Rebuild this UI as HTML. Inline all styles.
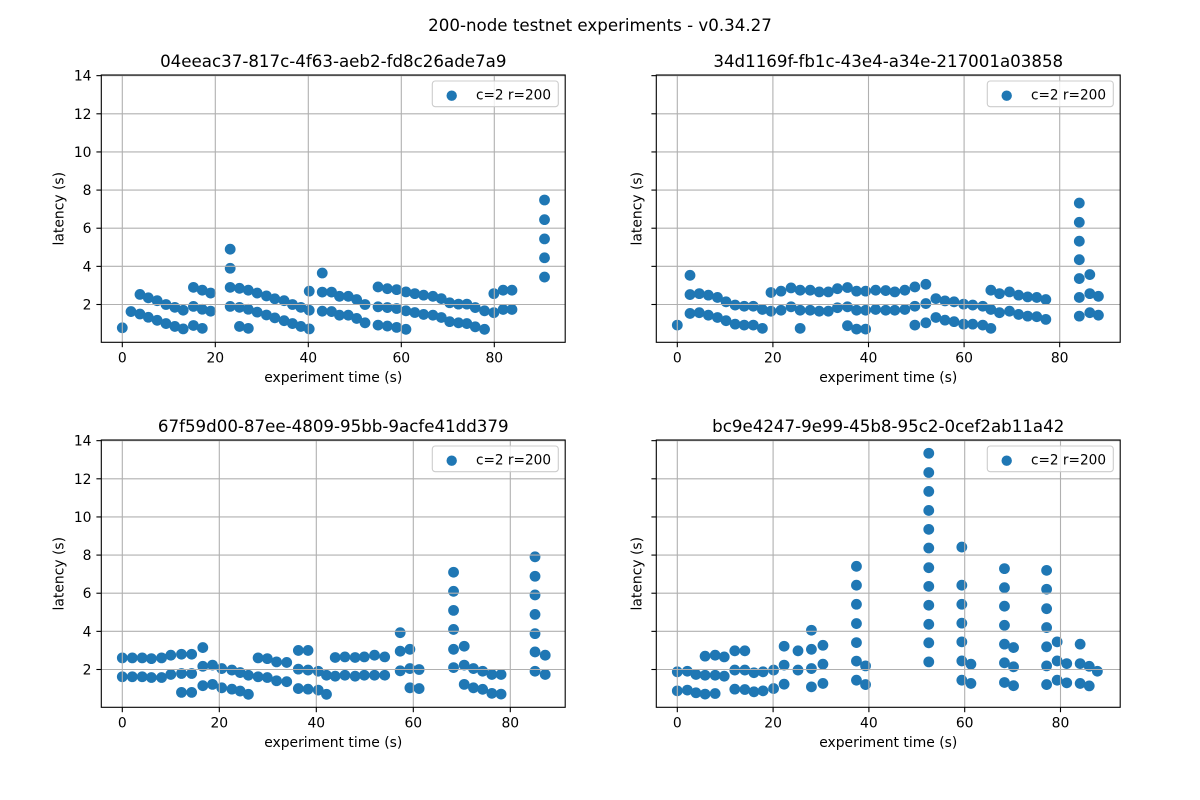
<!DOCTYPE html>
<html><head><meta charset="utf-8"><style>
html,body{margin:0;padding:0;background:#fff;}
svg{display:block;font-family:"DejaVu Sans","Liberation Sans",sans-serif;}
</style></head><body>
<svg id="s" width="1200" height="800" viewBox="0 0 1200 800" xmlns="http://www.w3.org/2000/svg">
<rect width="1200" height="800" fill="#fff"/>
<g id="pts" fill="#1f77b4"></g>
<g id="grid" stroke="#b0b0b0" stroke-width="1.1"></g>
<g id="frame" stroke="#000" stroke-width="1.1" fill="none"></g>

<!-- legends -->
<g>
<rect x="432.3" y="81" width="126" height="25.7" rx="3" fill="#fff" fill-opacity="0.8" stroke="#cccccc" stroke-width="1.1"/>
<circle cx="451.7" cy="95.7" r="5.2" fill="#1f77b4"/>
<text x="476" y="99.5" font-size="14.5" textLength="75" lengthAdjust="spacingAndGlyphs">c=2 r=200</text>
<rect x="987.3" y="81" width="126" height="25.7" rx="3" fill="#fff" fill-opacity="0.8" stroke="#cccccc" stroke-width="1.1"/>
<circle cx="1006.7" cy="95.7" r="5.2" fill="#1f77b4"/>
<text x="1031" y="99.5" font-size="14.5" textLength="75" lengthAdjust="spacingAndGlyphs">c=2 r=200</text>
<rect x="432.3" y="446" width="126" height="25.7" rx="3" fill="#fff" fill-opacity="0.8" stroke="#cccccc" stroke-width="1.1"/>
<circle cx="451.7" cy="460.7" r="5.2" fill="#1f77b4"/>
<text x="476" y="464.5" font-size="14.5" textLength="75" lengthAdjust="spacingAndGlyphs">c=2 r=200</text>
<rect x="987.3" y="446" width="126" height="25.7" rx="3" fill="#fff" fill-opacity="0.8" stroke="#cccccc" stroke-width="1.1"/>
<circle cx="1006.7" cy="460.7" r="5.2" fill="#1f77b4"/>
<text x="1031" y="464.5" font-size="14.5" textLength="75" lengthAdjust="spacingAndGlyphs">c=2 r=200</text>
</g>

<!-- titles -->
<text x="600" y="31" font-size="16.67" text-anchor="middle">200-node testnet experiments - v0.34.27</text>
<text x="333.25" y="67" font-size="16.67" text-anchor="middle">04eeac37-817c-4f63-aeb2-fd8c26ade7a9</text>
<text x="888.25" y="67" font-size="16.67" text-anchor="middle">34d1169f-fb1c-43e4-a34e-217001a03858</text>
<text x="333.25" y="432" font-size="16.67" text-anchor="middle">67f59d00-87ee-4809-95bb-9acfe41dd379</text>
<text x="888.25" y="432" font-size="16.67" text-anchor="middle">bc9e4247-9e99-45b8-95c2-0cef2ab11a42</text>

<!-- axis labels -->
<g font-size="13.9" text-anchor="middle">
<text x="333.25" y="382">experiment time (s)</text>
<text x="888.25" y="382">experiment time (s)</text>
<text x="333.25" y="747">experiment time (s)</text>
<text x="888.25" y="747">experiment time (s)</text>
<text transform="translate(63.5,208.7) rotate(-90)">latency (s)</text>
<text transform="translate(641.7,208.7) rotate(-90)">latency (s)</text>
<text transform="translate(63.5,573.7) rotate(-90)">latency (s)</text>
<text transform="translate(641.7,573.7) rotate(-90)">latency (s)</text>
</g>

<!-- y tick labels -->
<g font-size="13.9" text-anchor="end">
<text x="91.5" y="309.5">2</text>
<text x="91.5" y="271.4">4</text>
<text x="91.5" y="233.2">6</text>
<text x="91.5" y="195.1">8</text>
<text x="91.5" y="156.9">10</text>
<text x="91.5" y="118.8">12</text>
<text x="91.5" y="80.7">14</text>
<text x="91.5" y="674.5">2</text>
<text x="91.5" y="636.4">4</text>
<text x="91.5" y="598.2">6</text>
<text x="91.5" y="560.1">8</text>
<text x="91.5" y="521.9">10</text>
<text x="91.5" y="483.8">12</text>
<text x="91.5" y="445.7">14</text>
</g>

<!-- x tick labels -->
<g font-size="13.9" text-anchor="middle">
<text x="122.3" y="362.3">0</text>
<text x="215.3" y="362.3">20</text>
<text x="308.3" y="362.3">40</text>
<text x="401.3" y="362.3">60</text>
<text x="494.3" y="362.3">80</text>
<text x="677.3" y="362.3">0</text>
<text x="772.9" y="362.3">20</text>
<text x="868.5" y="362.3">40</text>
<text x="964.1" y="362.3">60</text>
<text x="1059.7" y="362.3">80</text>
<text x="122.3" y="727.3">0</text>
<text x="219.3" y="727.3">20</text>
<text x="316.3" y="727.3">40</text>
<text x="413.3" y="727.3">60</text>
<text x="510.3" y="727.3">80</text>
<text x="677.3" y="727.3">0</text>
<text x="773.1" y="727.3">20</text>
<text x="868.9" y="727.3">40</text>
<text x="964.7" y="727.3">60</text>
<text x="1060.5" y="727.3">80</text>
</g>
</svg>
<script>
(function(){
var NS="http://www.w3.org/2000/svg";
function el(p,tag,a){var e=document.createElementNS(NS,tag);for(var k in a)e.setAttribute(k,a[k]);p.appendChild(e);return e;}
var TL=[[0,[0.78]],[1.87,[1.63]],[3.8,[2.53,1.5]],[5.6,[2.35,1.33]],[7.5,[2.2,1.17]],[9.4,[2.0,1.0]],[11.3,[1.85,0.85]],[13.1,[1.7,0.72]],[15.3,[2.9,1.9,0.9]],[17.2,[2.75,1.75,0.75]],[19,[2.6,1.65]],[23.2,[4.9,3.9,2.9,1.9]],[25.2,[2.85,1.85,0.85]],[27.1,[2.75,1.75,0.75]],[29,[2.6,1.6]],[31,[2.45,1.45]],[32.8,[2.3,1.3]],[34.8,[2.2,1.15]],[36.6,[2.0,1.0]],[38.4,[1.85,0.85]],[40.2,[2.7,1.7,0.72]],[43,[3.65,2.65,1.65]],[45,[2.65,1.63]],[46.7,[2.43,1.44]],[48.6,[2.43,1.44]],[50.4,[2.26,1.27]],[52.2,[2.0,1.04]],[55,[2.92,1.88,0.92]],[57,[2.83,1.84,0.87]],[59,[2.78,1.79,0.8]],[61,[2.66,1.67,0.7]],[62.9,[2.57,1.58]],[64.8,[2.49,1.48]],[66.8,[2.43,1.44]],[68.6,[2.31,1.32]],[70.4,[2.09,1.1]],[72.3,[2.02,1.04]],[74.1,[2.02,1.0]],[75.9,[1.84,0.83]],[77.9,[1.67,0.7]],[79.9,[2.57,1.57]],[81.9,[2.75,1.74]],[83.8,[2.75,1.74]],[90.8,[7.48,6.45,5.44,4.45,3.44]]];
var TR=[[0,[0.92]],[2.66,[3.53,2.52,1.53]],[4.6,[2.57,1.57]],[6.5,[2.49,1.44]],[8.4,[2.37,1.32]],[10.2,[2.14,1.15]],[12.1,[1.97,0.97]],[14,[1.91,0.92]],[15.9,[1.91,0.92]],[17.8,[1.74,0.75]],[19.6,[2.63,1.65]],[21.7,[2.7,1.7]],[23.8,[2.87,1.88]],[25.7,[2.75,1.7,0.75]],[27.8,[2.75,1.7]],[29.7,[2.66,1.65]],[31.6,[2.66,1.65]],[33.5,[2.83,1.83]],[35.6,[2.89,1.88,0.89]],[37.5,[2.7,1.7,0.71]],[39.4,[2.7,1.7,0.71]],[41.5,[2.75,1.74]],[43.6,[2.73,1.7]],[45.5,[2.66,1.7]],[47.6,[2.75,1.74]],[49.7,[2.92,1.91,0.92]],[52,[3.06,2.05,1.04]],[54.1,[2.31,1.32]],[56,[2.19,1.18]],[57.9,[2.14,1.1]],[59.9,[2.02,0.97]],[61.8,[1.97,0.97]],[63.9,[1.91,0.92]],[65.6,[2.75,1.74,0.75]],[67.4,[2.57,1.57]],[69.5,[2.66,1.65]],[71.4,[2.49,1.48]],[73.3,[2.4,1.39]],[75.2,[2.37,1.36]],[77.1,[2.26,1.22]],[84.1,[7.32,6.31,5.32,4.35,3.36,2.37,1.39]],[86.3,[3.57,2.57,1.57]],[88.1,[2.43,1.44]]];
var BL=[[0,[2.61,1.62]],[2.06,[2.61,1.62]],[4.1,[2.61,1.62]],[6,[2.57,1.58]],[8.1,[2.61,1.58]],[10,[2.75,1.74]],[12.2,[2.8,1.79,0.8]],[14.3,[2.8,1.79,0.8]],[16.6,[3.15,2.17,1.15]],[18.6,[2.23,1.22]],[20.5,[2.05,1.04]],[22.6,[1.97,0.97]],[24.3,[1.84,0.87]],[26,[1.7,0.7]],[28,[2.61,1.62]],[29.9,[2.57,1.58]],[31.8,[2.4,1.41]],[33.9,[2.37,1.36]],[36.3,[3.0,2.02,1.0]],[38.3,[3.0,1.97,0.97]],[40.4,[1.91,0.92]],[42.1,[1.7,0.7]],[43.9,[2.63,1.65]],[45.9,[2.66,1.7]],[48,[2.63,1.65]],[49.9,[2.66,1.7]],[52,[2.75,1.7]],[54.1,[2.66,1.7]],[57.3,[3.93,2.96,1.93]],[59.3,[3.06,2.05,1.04]],[61.2,[2.0,1.0]],[68.3,[7.1,6.1,5.1,4.1,3.06,2.1]],[70.5,[3.22,2.23,1.22]],[72.4,[2.05,1.04]],[74.3,[1.91,0.96]],[76.2,[1.74,0.75]],[78.1,[1.74,0.71]],[85.1,[7.91,6.89,5.91,4.89,3.88,2.92,1.91]],[87.2,[2.75,1.74]]];
var BR=[[0,[1.88,0.88]],[2.1,[1.91,0.92]],[3.9,[1.74,0.78]],[5.8,[2.7,1.7,0.71]],[7.9,[2.75,1.7,0.74]],[9.8,[2.66,1.65]],[12,[2.98,1.97,0.97]],[14.1,[2.98,1.97,0.95]],[16,[1.83,0.83]],[17.9,[1.88,0.88]],[20.1,[1.97,1.0]],[22.3,[3.22,2.23,1.23]],[25.2,[2.98,1.97]],[28,[4.06,3.06,2.05,1.09]],[30.4,[3.27,2.28,1.27]],[37.4,[7.41,6.42,5.42,4.41,3.41,2.44,1.44]],[39.3,[2.19,1.21]],[52.5,[13.34,12.33,11.34,10.34,9.35,8.37,7.34,6.36,5.37,4.37,3.4,2.4]],[59.4,[8.42,6.42,5.42,4.43,3.45,2.45,1.44]],[61.3,[2.28,1.27]],[68.3,[7.29,6.29,5.32,4.32,3.33,2.35,1.32]],[70.2,[3.15,2.14,1.15]],[77.1,[7.2,6.21,5.19,4.2,3.19,2.19,1.21]],[79.3,[3.45,2.45,1.44]],[81.3,[2.31,1.3]],[84.1,[3.33,2.31,1.27]],[86,[2.17,1.14]],[87.7,[1.91]]];
var P=[
 {x0:101.3,x1:565.2,yo:0,ox:122.3,sx:4.65,d:TL},
 {x0:656.3,x1:1120.2,yo:0,ox:677.3,sx:4.78,d:TR},
 {x0:101.3,x1:565.2,yo:365,ox:122.3,sx:4.85,d:BL},
 {x0:656.3,x1:1120.2,yo:365,ox:677.3,sx:4.79,d:BR}
];
var gp=document.getElementById('pts'),gg=document.getElementById('grid'),gf=document.getElementById('frame');
P.forEach(function(p){
 var yt=75+p.yo,yb=342.3+p.yo;
 function Y(v){return p.yo+342.64-19.07*v;}
 p.d.forEach(function(c){
  var x=p.ox+p.sx*c[0];
  c[1].forEach(function(v){el(gp,'circle',{cx:x.toFixed(2),cy:Y(v).toFixed(2),r:5.4});});
 });
 for(var t=0;t<=80;t+=20){
  var x=p.ox+p.sx*t;
  el(gg,'line',{x1:x,x2:x,y1:yt,y2:yb});
  el(gf,'line',{x1:x,x2:x,y1:yb,y2:yb+4.9});
 }
 for(var v=2;v<=14;v+=2){
  var y=Y(v);
  el(gg,'line',{x1:p.x0,x2:p.x1,y1:y,y2:y});
  el(gf,'line',{x1:p.x0-4.9,x2:p.x0,y1:y,y2:y});
 }
 el(gf,'rect',{x:p.x0,y:yt,width:(p.x1-p.x0),height:(yb-yt)});
});
})();
</script>
</body></html>
